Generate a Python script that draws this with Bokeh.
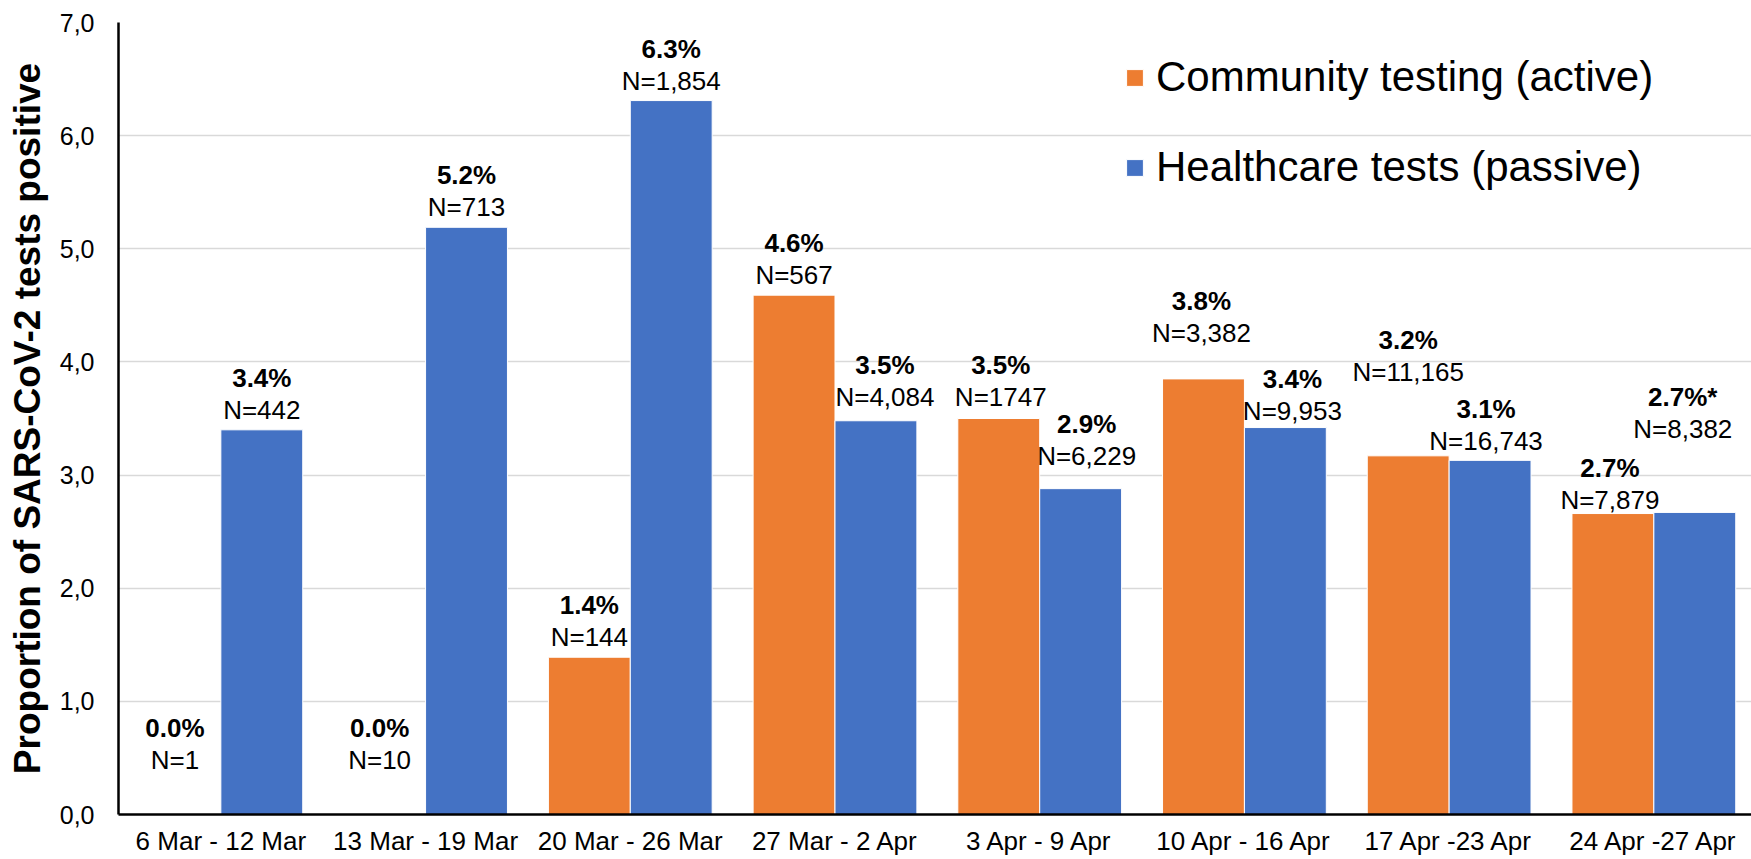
from bokeh.plotting import figure
from bokeh.models import ColumnDataSource, Range1d, FixedTicker
from bokeh.transform import dodge
from bokeh.core.properties import value
from bokeh.embed import file_html
from bokeh.resources import INLINE

# ---------------- data ----------------
weeks = ["6 Mar - 12 Mar", "13 Mar - 19 Mar", "20 Mar - 26 Mar", "27 Mar - 2 Apr",
         "3 Apr - 9 Apr", "10 Apr - 16 Apr", "17 Apr -23 Apr", "24 Apr -27 Apr"]
community = [0.0, 0.0, 1.39, 4.59, 3.50, 3.85, 3.17, 2.66]
healthcare = [3.40, 5.19, 6.31, 3.48, 2.88, 3.42, 3.13, 2.67]
community_pct = ["0.0%", "0.0%", "1.4%", "4.6%", "3.5%", "3.8%", "3.2%", "2.7%"]
healthcare_pct = ["3.4%", "5.2%", "6.3%", "3.5%", "2.9%", "3.4%", "3.1%", "2.7%*"]
community_n = ["N=1", "N=10", "N=144", "N=567", "N=1747", "N=3,382", "N=11,165", "N=7,879"]
healthcare_n = ["N=442", "N=713", "N=1,854", "N=4,084", "N=6,229", "N=9,953", "N=16,743", "N=8,382"]
y_ticks = [0, 1, 2, 3, 4, 5, 6, 7]
y_tick_labels = ["0,0", "1,0", "2,0", "3,0", "4,0", "5,0", "6,0", "7,0"]
series_names = ["Community testing (active)", "Healthcare tests (passive)"]

# ------------- layout (label nudges in screen px, as placed in the original) -------------
comm_raise = [35, 35, 0, 0, 2, 26, 64, -6]
comm_dx = [-5, -5, 0, 0, 2, -2, 0, -3]
hc_raise = [0, 0, 0, 4, 13, -3, -1, 63]
hc_dx = [0, 0, 0, 9, 6, 7, -4, -12]
N_GAP = 20      # px from bar top to centre of the "N=" line
PCT_GAP = 32    # px between the two label lines

ORANGE = "#ED7D31"
BLUE = "#4472C4"
FONT = "Liberation Sans"

idx = list(range(len(weeks)))
src = ColumnDataSource(dict(
    x=idx,
    comm=community, hc=healthcare,
    comm_pct=community_pct, hc_pct=healthcare_pct,
    comm_n=community_n, hc_n=healthcare_n,
    c_dx=comm_dx, h_dx=hc_dx,
    c_ndy=[-(N_GAP + r) for r in comm_raise],
    c_pdy=[-(N_GAP + PCT_GAP + r) for r in comm_raise],
    h_ndy=[-(N_GAP + r) for r in hc_raise],
    h_pdy=[-(N_GAP + PCT_GAP + r) for r in hc_raise],
))

p = figure(width=1751, height=859,
           x_range=Range1d(-0.5, 7.477), y_range=Range1d(0, 7),
           output_backend="svg", toolbar_location=None,
           min_border_left=118, min_border_right=0,
           min_border_top=22, min_border_bottom=45)
p.outline_line_color = None
p.background_fill_color = "white"
p.border_fill_color = "white"

W = 0.4
p.vbar(x=dodge("x", -0.2), top="comm", width=W, source=src,
       fill_color=ORANGE, line_color="white", line_width=1,
       legend_label=series_names[0])
p.vbar(x=dodge("x", 0.2), top="hc", width=W, source=src,
       fill_color=BLUE, line_color="white", line_width=1,
       legend_label=series_names[1])

common = dict(source=src, text_font=value(FONT), text_font_size="26px",
              text_align="center", text_baseline="middle", text_color="black")
p.text(x=dodge("x", -0.2), y="comm", text="comm_pct", x_offset="c_dx", y_offset="c_pdy",
       text_font_style="bold", **common)
p.text(x=dodge("x", -0.2), y="comm", text="comm_n", x_offset="c_dx", y_offset="c_ndy",
       **common)
p.text(x=dodge("x", 0.2), y="hc", text="hc_pct", x_offset="h_dx", y_offset="h_pdy",
       text_font_style="bold", **common)
p.text(x=dodge("x", 0.2), y="hc", text="hc_n", x_offset="h_dx", y_offset="h_ndy",
       **common)

# grid
p.xgrid.grid_line_color = None
p.ygrid.ticker = FixedTicker(ticks=y_ticks)
p.ygrid.grid_line_color = "#d9d9d9"
p.ygrid.grid_line_width = 1.3

# y axis
ya = p.yaxis[0]
ya.ticker = FixedTicker(ticks=y_ticks)
ya.major_label_overrides = {t: l for t, l in zip(y_ticks, y_tick_labels)}
ya.major_tick_line_color = None
ya.major_tick_out = 0
ya.major_tick_in = 0
ya.minor_tick_line_color = None
ya.minor_tick_out = 0
ya.major_label_standoff = 24
ya.major_label_text_font = FONT
ya.major_label_text_font_size = "25px"
ya.major_label_text_color = "black"
ya.axis_line_color = "black"
ya.axis_line_width = 2.5
ya.axis_label = "Proportion of SARS-CoV-2 tests positive"
ya.axis_label_text_font = FONT
ya.axis_label_text_font_size = "37px"
ya.axis_label_text_font_style = "bold"
ya.axis_label_text_color = "black"
ya.axis_label_standoff = 9

# x axis
xa = p.xaxis[0]
xa.ticker = FixedTicker(ticks=idx)
xa.major_label_overrides = {i: w for i, w in zip(idx, weeks)}
xa.major_tick_line_color = None
xa.major_tick_out = 0
xa.major_tick_in = 0
xa.minor_tick_line_color = None
xa.minor_tick_out = 0
xa.major_label_standoff = 11
xa.major_label_text_font = FONT
xa.major_label_text_font_size = "26px"
xa.major_label_text_color = "black"
xa.axis_line_color = "black"
xa.axis_line_width = 2.5

# legend
lg = p.legend[0]
lg.location = (1006, 623)
lg.label_text_font = FONT
lg.label_text_font_size = "42px"
lg.label_text_color = "black"
lg.glyph_width = 21
lg.glyph_height = 21
lg.label_standoff = 11
lg.spacing = 42
lg.padding = 0
lg.margin = 0
lg.border_line_color = None
lg.background_fill_alpha = 0

open("out.html", "w").write(file_html(p, INLINE))
